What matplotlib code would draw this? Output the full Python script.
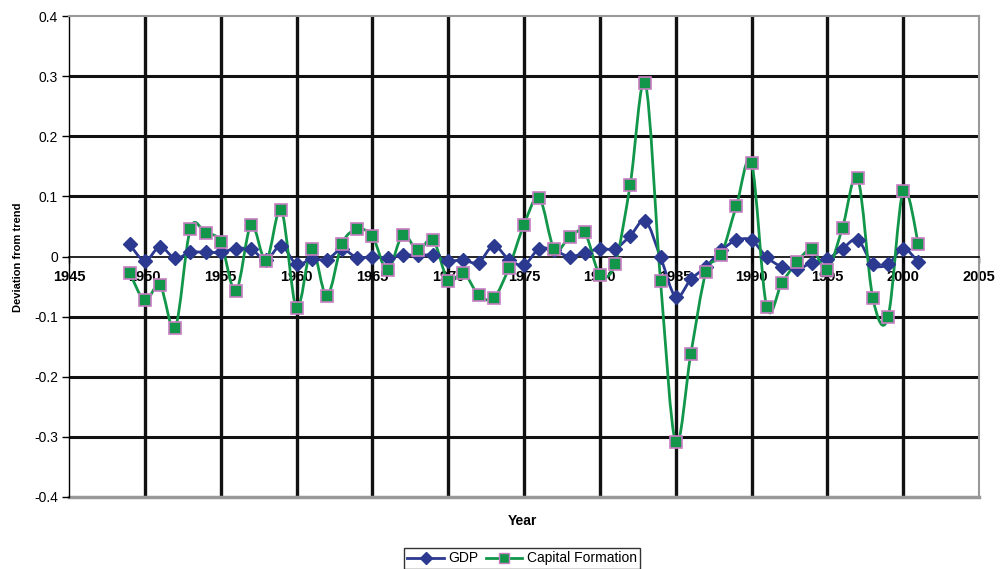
import matplotlib
matplotlib.use("Agg")
import matplotlib.pyplot as plt
from matplotlib.path import Path
from matplotlib.patches import PathPatch
from matplotlib.lines import Line2D
import numpy as np

plt.rcParams['font.family'] = ['Liberation Sans', 'DejaVu Sans']

years = list(range(1949, 2002))
gdp = [0.020, -0.007, 0.016, -0.003, 0.007, 0.007, 0.007, 0.013, 0.012, -0.005,
       0.018, -0.013, -0.004, -0.005, 0.012, -0.002, 0.000, -0.002, 0.002, 0.002,
       0.002, -0.007, -0.006, -0.010, 0.018, -0.005, -0.014, 0.013, 0.010, 0.000,
       0.006, 0.013, 0.013, 0.034, 0.059, -0.001, -0.067, -0.038, -0.017, 0.010,
       0.027, 0.027, -0.001, -0.017, -0.021, -0.010, -0.004, 0.013, 0.028, -0.013,
       -0.013, 0.013, -0.009]
capital = [-0.027, -0.073, -0.048, -0.119, 0.046, 0.039, 0.024, -0.058, 0.052, -0.007,
           0.077, -0.086, 0.013, -0.066, 0.021, 0.045, 0.034, -0.023, 0.036, 0.010,
           0.028, -0.040, -0.027, -0.064, -0.069, -0.019, 0.053, 0.098, 0.012, 0.032,
           0.040, -0.030, -0.012, 0.119, 0.288, -0.040, -0.309, -0.162, -0.026, 0.003,
           0.084, 0.156, -0.084, -0.044, -0.009, 0.012, -0.022, 0.048, 0.131, -0.069,
           -0.101, 0.109, 0.021]
x_ticks = [1945, 1950, 1955, 1960, 1965, 1970, 1975, 1980, 1985, 1990, 1995, 2000, 2005]
y_ticks = [-0.4, -0.3, -0.2, -0.1, 0, 0.1, 0.2, 0.3, 0.4]
y_ticklabels = ['-0.4', '-0.3', '-0.2', '-0.1', '0', '0.1', '0.2', '0.3', '0.4']

GDP_C = '#2B3990'
CF_C = '#12964A'
CF_EDGE = '#C77DC2'


def smooth_path(xs, ys):
    pts = np.column_stack([xs, ys]).astype(float)
    n = len(pts)
    verts = [pts[0]]
    codes = [Path.MOVETO]
    for i in range(n - 1):
        p0 = pts[i - 1] if i > 0 else pts[i]
        p1 = pts[i]
        p2 = pts[i + 1]
        p3 = pts[i + 2] if i + 2 < n else pts[i + 1]
        c1 = p1 + (p2 - p0) / 6.0
        c2 = p2 - (p3 - p1) / 6.0
        verts += [c1, c2, p2]
        codes += [Path.CURVE4] * 3
    return Path(verts, codes)


fig = plt.figure(figsize=(10.06, 5.69), dpi=100)
ax = fig.add_axes([69 / 1006, 1 - 497 / 569, 910 / 1006, 481 / 569])
ax.set_xlim(1945, 2005)
ax.set_ylim(-0.4, 0.4)

# gridlines
for yv in [-0.3, -0.2, -0.1, 0.1, 0.2, 0.3]:
    ax.axhline(yv, color='#111111', lw=2.2, zorder=1)
for xv in x_ticks[1:-1]:
    ax.axvline(xv, color='#111111', lw=2.4, zorder=1)

# lines (smoothed) and markers
ax.add_patch(PathPatch(smooth_path(years, gdp), fill=False, edgecolor=GDP_C, lw=2.0, zorder=3))
ax.add_patch(PathPatch(smooth_path(years, capital), fill=False, edgecolor=CF_C, lw=2.0, zorder=4))
ax.plot(years, gdp, linestyle='none', marker='D', markersize=7.5, color=GDP_C,
        markeredgecolor=GDP_C, zorder=5)
ax.plot(years, capital, linestyle='none', marker='s', markersize=8, markerfacecolor=CF_C,
        markeredgecolor=CF_EDGE, markeredgewidth=1.2, zorder=6)

# spines
ax.spines['bottom'].set_position(('data', 0))
ax.spines['bottom'].set_color('black')
ax.spines['bottom'].set_linewidth(1.2)
ax.spines['left'].set_color('black')
ax.spines['left'].set_linewidth(1.0)
for s in ['top', 'right']:
    ax.spines[s].set_color('#999999')
    ax.spines[s].set_linewidth(1.5)
ax.axhline(-0.4, color='#999999', lw=2.5, zorder=1, clip_on=False)

ax.set_xticks(x_ticks)
ax.set_xticklabels([str(v) for v in x_ticks], fontweight='bold', fontsize=10.5)
ax.set_yticks(y_ticks)
ax.set_yticklabels(y_ticklabels, fontsize=10)
ax.tick_params(axis='x', length=4, width=1, pad=6, direction='out')
ax.tick_params(axis='y', length=5, width=1, pad=3, direction='out')

fig.text(18 / 1006, 1 - 257 / 569, 'Deviation from trend', rotation=90,
         ha='center', va='center', fontsize=8, fontweight='bold')
fig.text(522 / 1006, 1 - 521 / 569, 'Year', ha='center', va='center',
         fontsize=10, fontweight='bold')

handles = [
    Line2D([], [], color=GDP_C, lw=2, marker='D', markersize=6, markerfacecolor=GDP_C),
    Line2D([], [], color=CF_C, lw=2, marker='s', markersize=6.5, markerfacecolor=CF_C,
           markeredgecolor=CF_EDGE),
]
leg = fig.legend(handles, ['GDP', 'Capital Formation'], loc='upper center',
                 bbox_to_anchor=(522 / 1006, 1 - 548 / 569), ncol=2, frameon=True,
                 fancybox=False, edgecolor='black', fontsize=10, handlelength=2.6,
                 handletextpad=0.3, columnspacing=0.6, borderpad=0.25, borderaxespad=0)
leg.get_frame().set_linewidth(1.0)

fig.savefig('out.png', dpi=100)
